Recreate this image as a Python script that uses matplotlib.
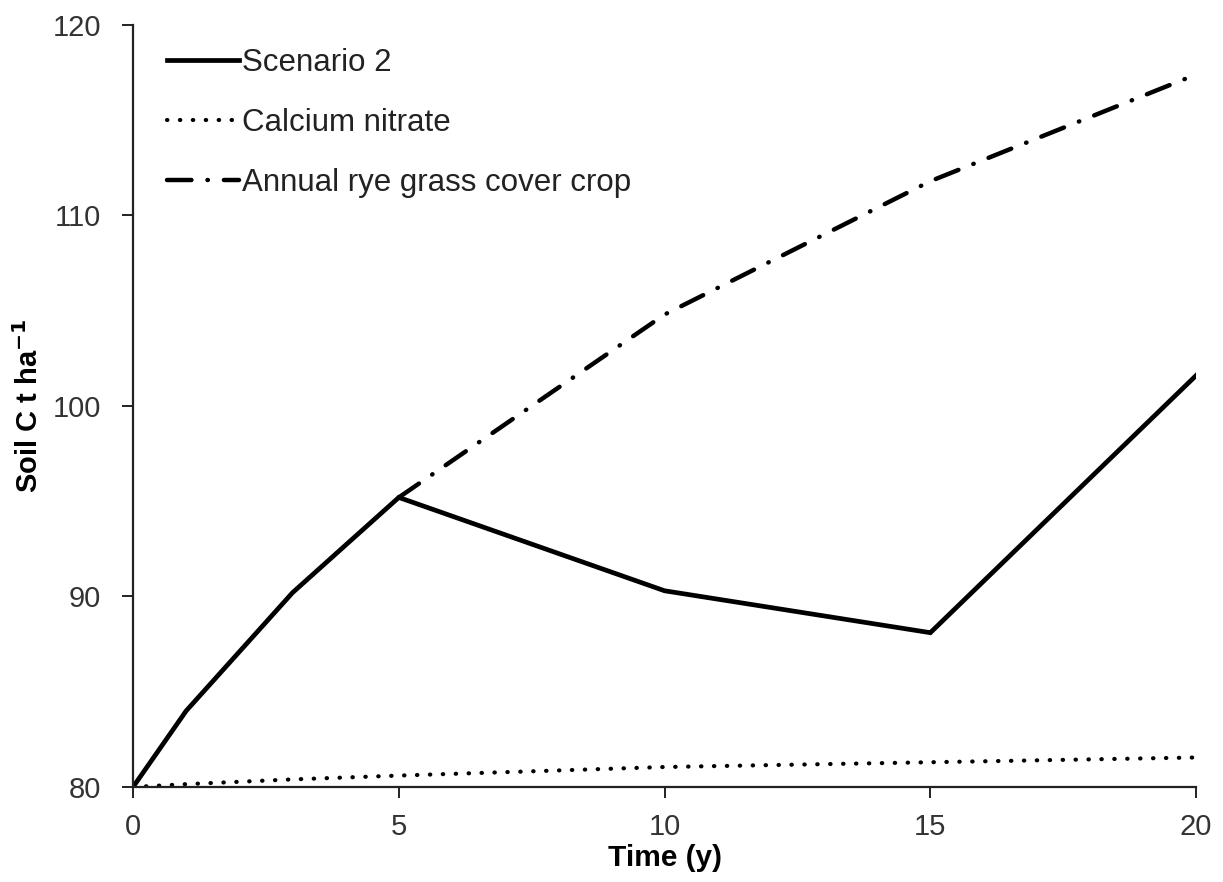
import matplotlib
matplotlib.use("Agg")
import matplotlib.pyplot as plt
from matplotlib import font_manager

# ---- data ----
scen2_x = [0, 1, 3, 5, 10, 15, 20]
scen2_y = [80.0, 84.0, 90.2, 95.2, 90.3, 88.1, 101.6]

calc_x = [0, 1, 3, 5, 10, 15, 20]
calc_y = [80.0, 80.15, 80.4, 80.6, 81.05, 81.3, 81.55]

rye_x = [5, 10, 15, 20]
rye_y = [95.2, 104.8, 111.8, 117.4]

labels = ["Scenario 2", "Calcium nitrate", "Annual rye grass cover crop"]
xticks = [0, 5, 10, 15, 20]
yticks = [80, 90, 100, 110, 120]

names = {f.name for f in font_manager.fontManager.ttflist}
fam = "Liberation Sans Narrow" if "Liberation Sans Narrow" in names else "Liberation Sans"
plt.rcParams['font.family'] = [fam, 'DejaVu Sans']

fig = plt.figure(figsize=(12.23, 8.82), dpi=100)
ax = fig.add_axes([0.1088, 0.1077, 0.978 - 0.1088, 0.9717 - 0.1077])

ax.plot(scen2_x, scen2_y, color='black', lw=3.4, solid_joinstyle='miter', label=labels[0])
ax.plot(calc_x, calc_y, color='black', lw=3.0, linestyle=(0, (0.1, 3.0)),
        dash_capstyle='round', label=labels[1])
ax.plot(rye_x, rye_y, color='black', lw=3.2, linestyle=(0, (5.5, 3.6, 0.1, 3.6)),
        dash_capstyle='round', label=labels[2])

ax.set_xlim(0, 20)
ax.set_ylim(80, 120)
ax.set_xticks(xticks)
ax.set_yticks(yticks)
for s in ['top', 'right']:
    ax.spines[s].set_visible(False)
for s in ['left', 'bottom']:
    ax.spines[s].set_linewidth(1.6)
    ax.spines[s].set_color('#222222')
ax.tick_params(axis='both', direction='out', length=8, width=1.4, color='#222222',
               labelsize=21, labelcolor='#333333')
ax.tick_params(axis='x', pad=11)
ax.tick_params(axis='y', pad=15)

ax.set_xlabel("Time (y)", fontsize=21.5, fontweight='bold', labelpad=2)
ax.set_ylabel("Soil C t ha$^{\\mathbf{-1}}$", fontsize=21, fontweight='bold', labelpad=6)

leg = ax.legend(loc='upper left', bbox_to_anchor=(0.02, 0.986), frameon=False,
                fontsize=22.5, handlelength=2.3, handletextpad=0.1, labelspacing=0.95,
                borderaxespad=0)
for t in leg.get_texts():
    t.set_color('#222222')

fig.savefig("out.png", dpi=100)
